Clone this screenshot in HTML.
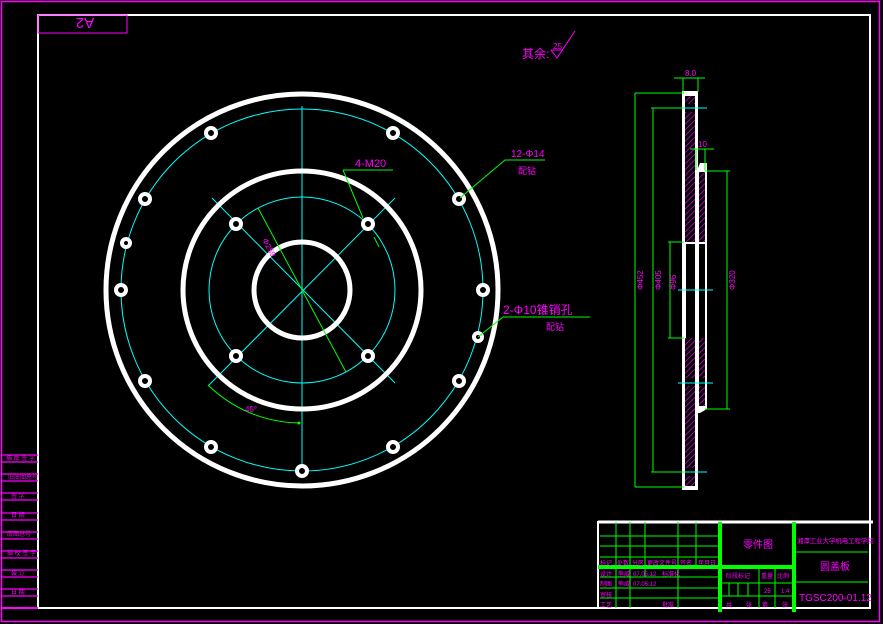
<!DOCTYPE html>
<html><head><meta charset="utf-8"><style>
html,body{margin:0;padding:0;background:#000;}
svg{display:block;font-family:"Liberation Sans","Noto Sans CJK SC",sans-serif;}
</style></head><body>
<svg width="883" height="624" viewBox="0 0 883 624" xmlns="http://www.w3.org/2000/svg">
<defs>
<pattern id="h" width="4" height="4" patternUnits="userSpaceOnUse" patternTransform="rotate(45)">
<line x1="0" y1="0" x2="0" y2="4" stroke="#ff00ff" stroke-width="1.3"/>
</pattern>
</defs>
<rect width="883" height="624" fill="#000"/>
<rect x="1.5" y="1.5" width="878" height="620" fill="none" stroke="#ff00ff" stroke-width="1.5"/>
<rect x="38" y="15" width="832" height="593" fill="none" stroke="#fff" stroke-width="2"/>
<rect x="38" y="15" width="89" height="18" fill="none" stroke="#ff00ff" stroke-width="1"/>
<text x="85" y="30" font-size="15" fill="#ff00ff" text-anchor="middle" transform="rotate(180 85 24)">A2</text>
<g stroke="#ff00ff" stroke-width="1.2">
<line x1="2" y1="455" x2="38" y2="455"/><line x1="2" y1="462" x2="38" y2="462"/>
<line x1="2" y1="474" x2="38" y2="474"/><line x1="2" y1="481" x2="38" y2="481"/>
<line x1="2" y1="493" x2="38" y2="493"/><line x1="2" y1="500" x2="38" y2="500"/>
<line x1="2" y1="513" x2="38" y2="513"/><line x1="2" y1="520" x2="38" y2="520"/>
<line x1="2" y1="532" x2="38" y2="532"/><line x1="2" y1="539" x2="38" y2="539"/>
<line x1="2" y1="551" x2="38" y2="551"/><line x1="2" y1="558" x2="38" y2="558"/>
<line x1="2" y1="570" x2="38" y2="570"/><line x1="2" y1="577" x2="38" y2="577"/>
<line x1="2" y1="589" x2="38" y2="589"/><line x1="2" y1="596" x2="38" y2="596"/>
<line x1="2" y1="608" x2="38" y2="608" stroke-width="2"/>
</g>
<g fill="#ff00ff" font-size="6">
<text x="6" y="460">描 图 签 字</text><text x="8" y="479">旧底图总号</text>
<text x="11" y="498">签 字</text><text x="11" y="517">日 期</text>
<text x="7" y="536">底图总号</text><text x="7" y="555">描 校 签 字</text>
<text x="11" y="575">装 订</text><text x="11" y="594">日 期</text>
</g>
<g fill="none" stroke="#0ff" stroke-width="1">
<circle cx="302" cy="290" r="181"/>
<circle cx="302" cy="290" r="93"/>
<line x1="302" y1="106" x2="302" y2="476"/>
<line x1="212" y1="198" x2="395" y2="383"/>
<line x1="395" y1="198" x2="208" y2="386"/>
</g>
<g fill="none" stroke="#fff">
<circle cx="302" cy="290" r="196" stroke-width="5"/>
<circle cx="302" cy="290" r="119" stroke-width="5"/>
<circle cx="302" cy="290" r="48" stroke-width="5"/>
</g>
<g fill="#000" stroke="#fff" stroke-width="4">
<circle cx="393" cy="133" r="5"/><circle cx="459" cy="199" r="5"/><circle cx="483" cy="290" r="5"/>
<circle cx="459" cy="381" r="5"/><circle cx="393" cy="447" r="5"/><circle cx="302" cy="471" r="5"/>
<circle cx="211" cy="447" r="5"/><circle cx="145" cy="381" r="5"/><circle cx="121" cy="290" r="5"/>
<circle cx="145" cy="199" r="5"/><circle cx="211" cy="133" r="5"/>
<circle cx="126" cy="243" r="4"/><circle cx="478" cy="337" r="4"/>
<circle cx="236" cy="224" r="5"/><circle cx="368" cy="224" r="5"/>
<circle cx="236" cy="356" r="5"/><circle cx="368" cy="356" r="5"/>
</g>
<g fill="none" stroke="#0f0" stroke-width="1">
<polyline points="343,170 393,170"/><polyline points="343,170 363,218"/>
<line x1="374" y1="237" x2="379" y2="247"/>
<line x1="258" y1="208" x2="346" y2="372"/>
<path d="M208,385 A133,133 0 0 0 299,423"/>
<polyline points="460,198 505,160 545,160"/>
<polyline points="478,337 503,317 590,317"/>
</g>
<g fill="#0f0"><circle cx="299" cy="423" r="1.5"/></g>
<g fill="#ff00ff">
<text x="355" y="167" font-size="11">4-M20</text>
<text x="262" y="240" font-size="8" transform="rotate(62 262 240)">Φ259</text>
<text x="245" y="412" font-size="8">45°</text>
<text x="511" y="157" font-size="10">12-Φ14</text>
<text x="518" y="174" font-size="9">配钻</text>
<text x="503" y="314" font-size="12">2-Φ10锥销孔</text>
<text x="546" y="330" font-size="9">配钻</text>
<text x="522" y="58" font-size="12">其余:</text>
<text x="553" y="49" font-size="8">25</text>
</g>
<polyline points="551,50 557,58 575,31" fill="none" stroke="#ff00ff" stroke-width="1"/>
<line x1="551" y1="50" x2="563" y2="50" stroke="#ff00ff"/>
<rect x="682" y="91" width="16" height="399" fill="#fff"/>
<polygon points="696,173 700,163 707,163 707,409 700,413 696,413" fill="#fff"/>
<g fill="#000">
<rect x="685" y="96" width="10" height="146"/>
<rect x="685" y="338" width="10" height="148"/>
<rect x="699" y="172" width="6" height="70"/>
<rect x="699" y="338" width="6" height="68"/>
</g>
<g fill="url(#h)">
<rect x="685" y="96" width="10" height="146"/>
<rect x="685" y="338" width="10" height="148"/>
<rect x="699" y="172" width="6" height="70"/>
<rect x="699" y="338" width="6" height="68"/>
</g>
<g fill="#000">
<rect x="686" y="244" width="9" height="94"/><rect x="699" y="244" width="6" height="94"/>
<rect x="685" y="104" width="10" height="8"/><rect x="685" y="468" width="10" height="8"/>
<rect x="685" y="378" width="10" height="8"/><rect x="699" y="378" width="6" height="8"/>
</g>
<g stroke="#0ff" stroke-width="1">
<line x1="680" y1="108" x2="707" y2="108"/><line x1="680" y1="472" x2="707" y2="472"/>
<line x1="678" y1="290" x2="713" y2="290"/><line x1="678" y1="383" x2="713" y2="383"/>
</g>
<g fill="none" stroke="#0f0" stroke-width="1">
<line x1="635" y1="93" x2="635" y2="487"/><line x1="635" y1="93" x2="684" y2="93"/><line x1="635" y1="487" x2="684" y2="487"/>
<line x1="653" y1="108" x2="653" y2="472"/><line x1="651" y1="108" x2="684" y2="108"/><line x1="651" y1="472" x2="684" y2="472"/>
<line x1="670" y1="242" x2="670" y2="338"/><line x1="668" y1="242" x2="684" y2="242"/><line x1="668" y1="338" x2="684" y2="338"/>
<line x1="727" y1="171" x2="727" y2="409"/><line x1="705" y1="171" x2="730" y2="171"/><line x1="705" y1="409" x2="730" y2="409"/>
<line x1="674" y1="78" x2="705" y2="78"/><line x1="683" y1="78" x2="683" y2="92"/><line x1="698" y1="78" x2="698" y2="92"/>
<line x1="690" y1="149" x2="714" y2="149"/><line x1="696" y1="149" x2="696" y2="170"/><line x1="705" y1="149" x2="705" y2="170"/>
</g>
<g fill="#ff00ff" font-size="8">
<text x="685" y="76">8.0</text><text x="698" y="147">10</text>
<text x="633" y="300" transform="rotate(-90 633 290)">Φ452</text>
<text x="651" y="300" transform="rotate(-90 651 290)">Φ405</text>
<text x="668" y="298" transform="rotate(-90 668 290)">Φ96</text>
<text x="725" y="300" transform="rotate(-90 725 290)">Φ320</text>
</g>
<rect x="598" y="522" width="272" height="86" fill="none" stroke="#fff" stroke-width="2"/>
<line x1="598" y1="522" x2="873" y2="522" stroke="#fff" stroke-width="3"/>
<g stroke="#0f0" stroke-width="1">
<line x1="600" y1="536" x2="720" y2="536"/><line x1="600" y1="546" x2="720" y2="546"/>
<line x1="600" y1="557" x2="720" y2="557"/><line x1="600" y1="577" x2="720" y2="577"/>
<line x1="600" y1="588" x2="720" y2="588"/><line x1="600" y1="598" x2="720" y2="598"/>
<line x1="616" y1="522" x2="616" y2="608"/><line x1="630" y1="522" x2="630" y2="608"/>
<line x1="645" y1="522" x2="645" y2="577"/><line x1="678" y1="522" x2="678" y2="608"/>
<line x1="696" y1="522" x2="696" y2="567"/>
<line x1="720" y1="583" x2="794" y2="583"/><line x1="720" y1="596" x2="794" y2="596"/>
<line x1="729" y1="583" x2="729" y2="596"/><line x1="738" y1="583" x2="738" y2="596"/><line x1="748" y1="583" x2="748" y2="596"/>
<line x1="759" y1="567" x2="759" y2="608"/><line x1="775" y1="567" x2="775" y2="608"/>
<line x1="794" y1="552" x2="868" y2="552"/><line x1="794" y1="582" x2="868" y2="582"/>
</g>
<g stroke="#0f0" stroke-width="4">
<line x1="720" y1="522" x2="720" y2="612"/><line x1="794" y1="522" x2="794" y2="612"/>
<line x1="598" y1="567" x2="794" y2="567"/>
</g>
<g fill="#ff00ff" font-size="6">
<text x="600" y="565">标记</text><text x="617" y="565">处数</text><text x="632" y="565">分区</text>
<text x="647" y="565">更改文件号</text><text x="680" y="565">签名</text><text x="698" y="565">年月日</text>
<text x="600" y="576">设计</text><text x="618" y="576">熊威</text><text x="633" y="576">07.05.12</text><text x="662" y="576">标准化</text>
<text x="600" y="586">制图</text><text x="618" y="586">熊威</text><text x="633" y="586">07.05.12</text>
<text x="600" y="597">审核</text><text x="600" y="607">工艺</text><text x="662" y="607">批准</text>
<text x="726" y="578">阶段标记</text><text x="761" y="578">重量</text><text x="777" y="578">比例</text>
<text x="764" y="593">25</text><text x="781" y="593">1:4</text>
<text x="726" y="607">共</text><text x="746" y="607">张</text><text x="762" y="607">第</text><text x="782" y="607">张</text>
</g>
<text x="797" y="543" font-size="6.4" fill="#ff00ff">湘潭工业大学机电工程学院</text>
<g fill="#ff00ff">
<text x="743" y="548" font-size="10">零件图</text>
<text x="820" y="570" font-size="10">圆盖板</text>
<text x="799" y="601" font-size="10">TGSC200-01.12</text>
</g>
</svg>
</body></html>
